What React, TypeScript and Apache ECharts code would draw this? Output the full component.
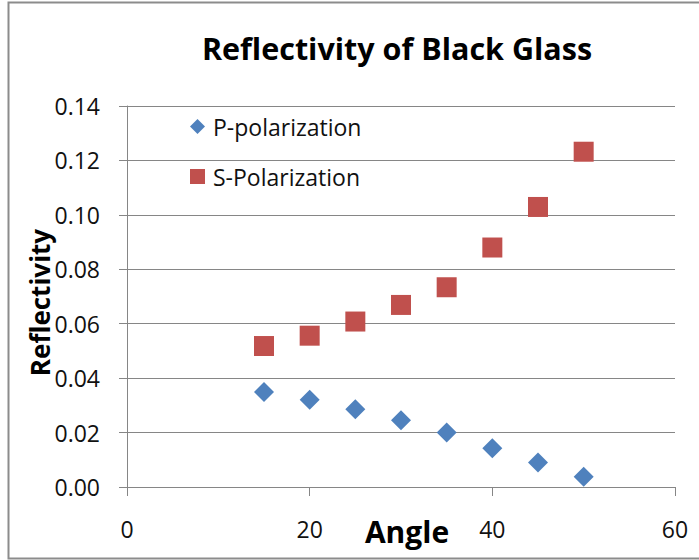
import React, { useEffect, useRef } from "react";
import * as echarts from "echarts";

const angles = [15, 20, 25, 30, 35, 40, 45, 50];
const pPolarization = [0.0349, 0.0321, 0.0286, 0.0245, 0.02, 0.0142, 0.009, 0.0038];
const sPolarization = [0.0518, 0.0556, 0.0608, 0.0669, 0.0734, 0.088, 0.1029, 0.1232];
const seriesNames = ["P-polarization", "S-Polarization"];
const titleText = "Reflectivity of Black Glass";
const xName = "Angle";
const yName = "Reflectivity";

const FONT = "Open Sans";
const AXIS_GRAY = "#868686";

export default function App() {
  const ref = useRef<HTMLDivElement>(null);
  useEffect(() => {
    if (!ref.current) return;
    const chart = echarts.init(ref.current, undefined, { renderer: "svg" });
    const pData = angles.map((a, i) => [a, pPolarization[i]]);
    const sData = angles.map((a, i) => [a, sPolarization[i]]);
    chart.setOption({
      animation: false,
      backgroundColor: "#ffffff",
      textStyle: { fontFamily: FONT },
      title: {
        text: titleText,
        left: 392,
        textAlign: "center",
        top: 27,
        textStyle: { fontFamily: FONT, fontWeight: "bold", fontSize: 30.5, color: "#000" },
      },
      graphic: [
        {
          type: "rect",
          shape: { x: 8.5, y: 2.5, width: 710, height: 556 },
          style: { fill: "none", stroke: "#8c8c8c", lineWidth: 2 },
          silent: true,
        },
      ],
      legend: {
        orient: "vertical",
        left: 190,
        top: 115,
        padding: 0,
        itemGap: 27,
        itemWidth: 15,
        itemHeight: 15,
        textStyle: { fontFamily: FONT, fontSize: 23, color: "#111", lineHeight: 23, padding: [0, 0, 0, 3] },
        data: [
          { name: seriesNames[0], icon: "diamond" },
          { name: seriesNames[1], icon: "rect" },
        ],
      },
      grid: { left: 127, right: 24, top: 106, bottom: 73, containLabel: false, outerBoundsMode: "none" },
      xAxis: {
        type: "value",
        min: 0,
        max: 60,
        interval: 20,
        name: xName,
        nameLocation: "middle",
        nameGap: 29,
        nameMoveOverlap: false,
        nameTextStyle: { fontFamily: FONT, fontWeight: "bold", fontSize: 30, color: "#000", padding: [0, 0, 0, 12] },
        axisLine: { show: true, lineStyle: { color: AXIS_GRAY, width: 1 } },
        axisTick: { show: true, length: 9, lineStyle: { color: AXIS_GRAY } },
        axisLabel: { margin: 30, fontFamily: FONT, fontSize: 23, color: "#111" },
        splitLine: { show: false },
      },
      yAxis: {
        type: "value",
        min: 0,
        max: 0.14,
        interval: 0.02,
        name: yName,
        nameLocation: "middle",
        nameGap: 74,
        nameMoveOverlap: false,
        nameRotate: 90,
        nameTextStyle: { fontFamily: FONT, fontWeight: "bold", fontSize: 26, color: "#000", padding: [0, 12, 0, 0] },
        axisLine: { show: true, lineStyle: { color: AXIS_GRAY, width: 1 } },
        axisTick: { show: true, length: 8, lineStyle: { color: AXIS_GRAY } },
        axisLabel: {
          margin: 27,
          fontFamily: FONT,
          fontSize: 23,
          color: "#111",
          formatter: (v: number) => v.toFixed(2),
        },
        splitLine: { show: true, lineStyle: { color: AXIS_GRAY, width: 1 } },
      },
      series: [
        {
          name: seriesNames[0],
          type: "scatter",
          symbol: "diamond",
          symbolSize: 20,
          itemStyle: { color: "#4F81BD", opacity: 1 },
          data: pData,
        },
        {
          name: seriesNames[1],
          type: "scatter",
          symbol: "rect",
          symbolSize: 20,
          itemStyle: { color: "#C0504D", opacity: 1 },
          data: sData,
        },
      ],
    });
    return () => chart.dispose();
  }, []);
  return (
    <div
      ref={ref}
      style={{ position: "absolute", left: 0, top: 0, width: 699, height: 560 }}
    />
  );
}
